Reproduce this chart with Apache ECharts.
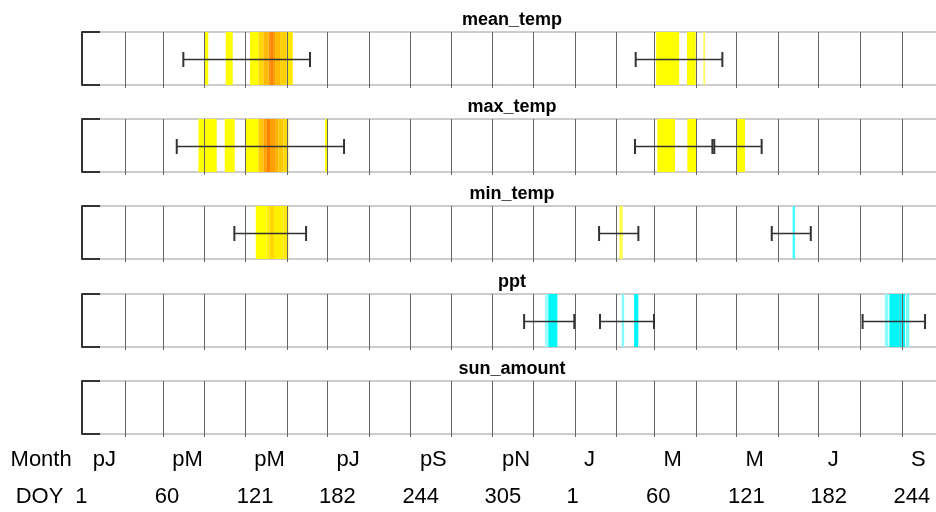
<!DOCTYPE html>
<html>
<head>
<meta charset="utf-8">
<script src="https://cdn.jsdelivr.net/npm/echarts@6/dist/echarts.min.js"></script>
<style>
  html, body { margin: 0; padding: 0; background: #ffffff; }
  #chart { width: 936px; height: 512px; }
</style>
</head>
<body>
<div id="chart"></div>
<script>
// ---------------- data ----------------
const panelNames = ['mean_temp', 'max_temp', 'min_temp', 'ppt', 'sun_amount'];

// month boundaries (continuous day index over two years)
const monthStarts = [32, 60, 91, 121, 152, 182, 213, 244, 274, 305, 335,
                     366, 397, 425, 456, 486, 517, 547, 578, 609];

// bottom label rows
const labelDays   = [1, 60, 121, 182, 244, 305, 366, 425, 486, 547, 609];
const monthLabels = ['pJ', 'pM', 'pM', 'pJ', 'pS', 'pN', 'J', 'M', 'M', 'J', 'S'];
const doyLabels   = ['1', '60', '121', '182', '244', '305', '1', '60', '121', '182', '244'];

// bands: [startDay, endDay, value]  (value > 0 : heat scale, value < 0 : cyan scale)
const meanTempBands = [[91.0, 93.8, 0.2], [106.8, 112, 0.2], [124.9, 131.1, 0.2], [131.1, 134.8, 0.45],
  [134.8, 138.5, 0.65], [138.5, 139.8, 0.85], [139.8, 142, 1], [142, 143.5, 0.85], [143.5, 147.2, 0.65],
  [147.2, 152.2, 0.5], [152.2, 156.6, 0.35], [426.6, 443.7, 0.2], [449.5, 456, 0.2], [461.7, 463, 0.08]];
const maxTempBands = [[86.5, 100.1, 0.2], [106.1, 113.5, 0.2], [121.7, 131.1, 0.2], [131.1, 134.8, 0.55],
  [134.8, 137.3, 0.8], [137.3, 139.7, 1], [139.7, 143.5, 0.8], [143.5, 146, 0.7], [146, 149.7, 0.55],
  [149.7, 153.3, 0.45], [180.6, 182.3, 0.2], [427.5, 440.6, 0.2], [449.8, 456.8, 0.2], [486.5, 492.6, 0.2]];
const minTempBands = [[129.1, 137.3, 0.2], [137.3, 139.2, 0.3], [139.2, 142.7, 0.45], [142.7, 149.6, 0.3],
  [149.6, 153.3, 0.35], [399.3, 401.8, 0.1], [528, 529.8, -0.35]];
const pptBands = [[344.1, 346.5, -0.15], [346.5, 353.2, -0.6], [401, 402.8, -0.2], [410.2, 413.4, -0.6],
  [596.6, 599.1, -0.2], [599.9, 607.3, -0.6], [607.3, 609, -0.9], [609, 611.5, -0.6], [612.3, 614.7, -0.25]];
const sunBands = [];

// error bars: [lowDay, highDay]
const meanTempBars = [[75.3, 169.4], [411.4, 475.8]];
const maxTempBars  = [[70.4, 194.7], [410.9, 468.4], [469.8, 505]];
const minTempBars  = [[113.2, 166.5], [384.2, 413.4], [512.5, 541.5]];
const pptBars      = [[328.5, 365.8], [384.9, 425], [580, 626.4]];
const sunBars      = [];

const allBands = [meanTempBands, maxTempBands, minTempBands, pptBands, sunBands];
const allBars  = [meanTempBars, maxTempBars, minTempBars, pptBars, sunBars];

// ---------------- styling / layout ----------------
const X_MIN = 0, X_MAX = 639;
const GRID_LEFT = 82, GRID_WIDTH = 860;
const FONT = 'Liberation Sans, Arial, sans-serif';

function bandColor(v) {
  if (v >= 0) {
    if (v < 0.2) {
      const b = Math.round(160 * (1 - v / 0.2));
      return 'rgb(255,255,' + b + ')';
    }
    const g = Math.round(255 - (Math.min(v, 1) - 0.2) / 0.8 * 125);
    return 'rgb(255,' + g + ',0)';
  }
  const a = Math.min(-v, 1);
  if (a <= 0.5) {
    const r = Math.round(180 * Math.max(0, Math.min(1, (0.5 - a) / 0.4)));
    return 'rgb(' + r + ',255,255)';
  }
  const t = (a - 0.5) / 0.5;
  return 'rgb(0,' + Math.round(255 - 40 * t) + ',' + Math.round(255 - 25 * t) + ')';
}

const grids = [], xAxes = [], yAxes = [], series = [], titles = [];

panelNames.forEach(function (name, i) {
  const top = Math.round(32 + i * 87.2);
  grids.push({ left: GRID_LEFT, width: GRID_WIDTH, top: top, height: 53, outerBoundsMode: 'none',
    containLabel: false, show: true, borderColor: '#999', borderWidth: 1 });
  xAxes.push({ gridIndex: i, type: 'value', min: X_MIN, max: X_MAX,
    axisLine: { show: false }, axisTick: { show: false }, axisLabel: { show: false }, splitLine: { show: false } });
  yAxes.push({ gridIndex: i, type: 'value', min: 0, max: 1, interval: 1,
    axisLine: { show: true, lineStyle: { color: '#333', width: 2 } },
    axisTick: { show: true, inside: true, length: 18, lineStyle: { color: '#333', width: 2 } },
    axisLabel: { show: false }, splitLine: { show: false } });
  titles.push({ text: name, left: 512, top: Math.round(11 + i * 87.2), textAlign: 'center', padding: 0,
    textStyle: { fontFamily: FONT, fontWeight: 'bold', fontSize: 18, color: '#000' } });

  // bands
  series.push({
    type: 'custom', xAxisIndex: i, yAxisIndex: i, z: 1, silent: true,
    data: allBands[i],
    encode: { x: [0, 1] },
    renderItem: function (params, api) {
      const p0 = api.coord([api.value(0), 1]);
      const p1 = api.coord([api.value(1), 0]);
      return { type: 'rect', shape: { x: p0[0], y: p0[1], width: p1[0] - p0[0], height: p1[1] - p0[1] },
        style: { fill: bandColor(api.value(2)) } };
    }
  });
  // month lines
  series.push({
    type: 'custom', xAxisIndex: i, yAxisIndex: i, z: 2, silent: true, clip: false,
    data: monthStarts.map(function (d) { return [d]; }),
    encode: { x: 0 },
    renderItem: function (params, api) {
      const pt = api.coord([api.value(0), 1]);
      const pb = api.coord([api.value(0), 0]);
      const x = Math.round(pt[0]) + 0.5;
      return { type: 'line', shape: { x1: x, y1: pt[1], x2: x, y2: pb[1] + 3 },
        style: { stroke: '#666', lineWidth: 1 } };
    }
  });
  // error bars
  series.push({
    type: 'custom', xAxisIndex: i, yAxisIndex: i, z: 3, silent: true, clip: false,
    data: allBars[i],
    encode: { x: [0, 1] },
    renderItem: function (params, api) {
      const a = api.coord([api.value(0), 0.49]);
      const b = api.coord([api.value(1), 0.49]);
      const y = Math.round(a[1]) + 0.5;
      const h = 7.5;
      const st = { stroke: '#333', lineWidth: 1.6 };
      return { type: 'group', children: [
        { type: 'line', shape: { x1: a[0], y1: y, x2: b[0], y2: y }, style: st },
        { type: 'line', shape: { x1: a[0], y1: y - h, x2: a[0], y2: y + h }, style: { stroke: '#333', lineWidth: 2 } },
        { type: 'line', shape: { x1: b[0], y1: y - h, x2: b[0], y2: y + h }, style: { stroke: '#333', lineWidth: 2 } }
      ] };
    }
  });
});

// label rows
const monthMap = {}, doyMap = {};
labelDays.forEach(function (d, k) { monthMap[d] = monthLabels[k]; doyMap[d] = doyLabels[k]; });

const labelRows = [
  { name: 'Month', left: 91.5, top: 459, gap: 19.8, map: monthMap },
  { name: 'DOY', left: 74, top: 496, gap: 10.7, map: doyMap }
];
labelRows.forEach(function (row) {
  const gi = grids.length;
  grids.push({ left: row.left, width: GRID_WIDTH, top: row.top, height: 1, show: false,
    outerBoundsMode: 'none', containLabel: false });
  xAxes.push({ gridIndex: gi, type: 'value', min: X_MIN, max: X_MAX,
    name: row.name, nameLocation: 'start', nameGap: row.gap,
    nameTextStyle: { fontFamily: FONT, fontSize: 22, color: '#000' },
    axisLine: { show: false }, axisTick: { show: false }, splitLine: { show: false },
    axisLabel: { show: true, customValues: labelDays, margin: 0, align: 'left', verticalAlign: 'middle',
      fontFamily: FONT, fontSize: 22, color: '#000',
      formatter: function (v) { return row.map[v] !== undefined ? row.map[v] : ''; } } });
  yAxes.push({ gridIndex: gi, type: 'value', min: 0, max: 1, show: false });
});

const chart = echarts.init(document.getElementById('chart'), null, { renderer: 'canvas' });
chart.setOption({
  animation: false,
  backgroundColor: '#ffffff',
  title: titles,
  grid: grids,
  xAxis: xAxes,
  yAxis: yAxes,
  series: series
});
</script>
</body>
</html>
